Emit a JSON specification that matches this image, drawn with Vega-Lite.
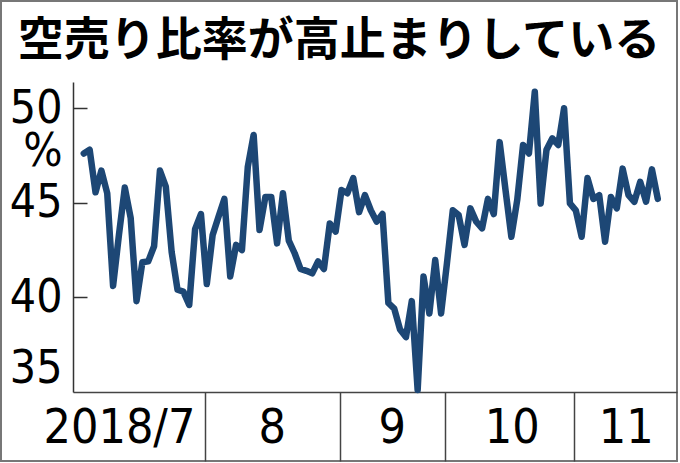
{
  "$schema": "https://vega.github.io/schema/vega-lite/v6.json",
  "width": 676,
  "height": 460,
  "autosize": {"type": "none"},
  "padding": {"left": 1, "top": 1, "right": 3, "bottom": 2},
  "background": "white",
  "config": {
    "view": {"stroke": "#777", "strokeWidth": 2},
    "font": "Liberation Sans Narrow, DejaVu Sans Condensed, Arial Narrow, Liberation Sans, sans-serif"
  },
  "title": {
    "text": "空売り比率が高止まりしている",
    "font": "Noto Sans CJK JP",
    "fontSize": 46,
    "fontWeight": "bold",
    "color": "#000",
    "anchor": "middle",
    "frame": "group",
    "offset": -64
  },
  "data": {
    "values": [
      {"i": 0, "v": 47.6}, {"i": 1, "v": 47.8}, {"i": 2, "v": 45.55}, {"i": 3, "v": 46.7}, {"i": 4, "v": 45.5},
      {"i": 5, "v": 40.6}, {"i": 6, "v": 43.3}, {"i": 7, "v": 45.8}, {"i": 8, "v": 44.2}, {"i": 9, "v": 39.8},
      {"i": 10, "v": 41.85}, {"i": 11, "v": 41.9}, {"i": 12, "v": 42.7}, {"i": 13, "v": 46.7}, {"i": 14, "v": 45.85},
      {"i": 15, "v": 42.4}, {"i": 16, "v": 40.4}, {"i": 17, "v": 40.3}, {"i": 18, "v": 39.6}, {"i": 19, "v": 43.6},
      {"i": 20, "v": 44.4}, {"i": 21, "v": 40.7}, {"i": 22, "v": 43.3}, {"i": 23, "v": 44.26}, {"i": 24, "v": 45.2},
      {"i": 25, "v": 41.1}, {"i": 26, "v": 42.77}, {"i": 27, "v": 42.5}, {"i": 28, "v": 46.9}, {"i": 29, "v": 48.58},
      {"i": 30, "v": 43.56}, {"i": 31, "v": 45.3}, {"i": 32, "v": 45.3}, {"i": 33, "v": 42.85}, {"i": 34, "v": 45.5},
      {"i": 35, "v": 43.0}, {"i": 36, "v": 42.33}, {"i": 37, "v": 41.5}, {"i": 38, "v": 41.4}, {"i": 39, "v": 41.27},
      {"i": 40, "v": 41.9}, {"i": 41, "v": 41.5}, {"i": 42, "v": 43.9}, {"i": 43, "v": 43.47}, {"i": 44, "v": 45.67},
      {"i": 45, "v": 45.5}, {"i": 46, "v": 46.3}, {"i": 47, "v": 44.5}, {"i": 48, "v": 45.4}, {"i": 49, "v": 44.6},
      {"i": 50, "v": 44.0}, {"i": 51, "v": 44.4}, {"i": 52, "v": 39.7}, {"i": 53, "v": 39.4}, {"i": 54, "v": 38.3},
      {"i": 55, "v": 37.9}, {"i": 56, "v": 39.8}, {"i": 57, "v": 35.1}, {"i": 58, "v": 41.1}, {"i": 59, "v": 39.15},
      {"i": 60, "v": 41.97}, {"i": 61, "v": 39.15}, {"i": 62, "v": 41.8}, {"i": 63, "v": 44.6}, {"i": 64, "v": 44.35},
      {"i": 65, "v": 42.77}, {"i": 66, "v": 44.7}, {"i": 67, "v": 44.0}, {"i": 68, "v": 43.65}, {"i": 69, "v": 45.2},
      {"i": 70, "v": 44.4}, {"i": 71, "v": 48.2}, {"i": 72, "v": 45.67}, {"i": 73, "v": 43.2}, {"i": 74, "v": 45.14},
      {"i": 75, "v": 48.05}, {"i": 76, "v": 47.6}, {"i": 77, "v": 50.86}, {"i": 78, "v": 44.96}, {"i": 79, "v": 47.8},
      {"i": 80, "v": 48.4}, {"i": 81, "v": 48.05}, {"i": 82, "v": 49.99}, {"i": 83, "v": 44.96}, {"i": 84, "v": 44.6},
      {"i": 85, "v": 43.2}, {"i": 86, "v": 46.3}, {"i": 87, "v": 45.2}, {"i": 88, "v": 45.4}, {"i": 89, "v": 42.94},
      {"i": 90, "v": 45.3}, {"i": 91, "v": 44.7}, {"i": 92, "v": 46.8}, {"i": 93, "v": 45.4}, {"i": 94, "v": 45.05},
      {"i": 95, "v": 46.1}, {"i": 96, "v": 45.05}, {"i": 97, "v": 46.76}, {"i": 98, "v": 45.2}
    ]
  },
  "mark": {"type": "line", "color": "#1d4775", "strokeWidth": 6.5, "strokeJoin": "round", "strokeCap": "round"},
  "encoding": {
    "x": {
      "field": "i",
      "type": "quantitative",
      "scale": {"domain": [-1.844, 101.28], "range": [72, 676], "nice": false, "zero": false},
      "axis": {
        "orient": "bottom",
        "offset": -69,
        "title": null,
        "grid": false,
        "values": [6.0, 20.69, 32.08, 43.74, 52.57, 61.67, 73.06, 83.69, 92.54],
        "labelExpr": "datum.value < 10 ? '2018/7' : (datum.value > 30 && datum.value < 34) ? '8' : (datum.value > 50 && datum.value < 55) ? '9' : (datum.value > 70 && datum.value < 75) ? '10' : datum.value > 90 ? '11' : ''",
        "tickSize": 69,
        "tickWidth": 1.5,
        "tickColor": {"condition": {"test": "datum.value === 20.69 || datum.value === 43.74 || datum.value === 61.67 || datum.value === 83.69", "value": "#444"}, "value": "transparent"},
        "domainColor": "#444",
        "domainWidth": 1.5,
        "labelFontSize": 48,
        "labelColor": "#000",
        "labelBaseline": "middle",
        "labelPadding": -33,
        "labelOverlap": false,
        "labelFlush": false
      }
    },
    "y": {
      "field": "v",
      "type": "quantitative",
      "scale": {"domain": [35, 51.376], "range": [391, 81], "nice": false, "zero": false},
      "axis": {
        "orient": "left",
        "offset": -72,
        "title": null,
        "grid": false,
        "values": [35, 40, 45, 47.7, 50],
        "labelExpr": "datum.value == 47.7 ? '%' : datum.label",
        "tickSize": -14,
        "tickWidth": 1.5,
        "tickColor": {"condition": {"test": "datum.value == 47.7 || datum.value == 35", "value": "transparent"}, "value": "#333"},
        "domainColor": "#333",
        "domainWidth": 1.5,
        "labelFontSize": 46,
        "labelColor": "#000",
        "labelPadding": 25,
        "labelFlush": true,
        "labelOverlap": false
      }
    }
  }
}
